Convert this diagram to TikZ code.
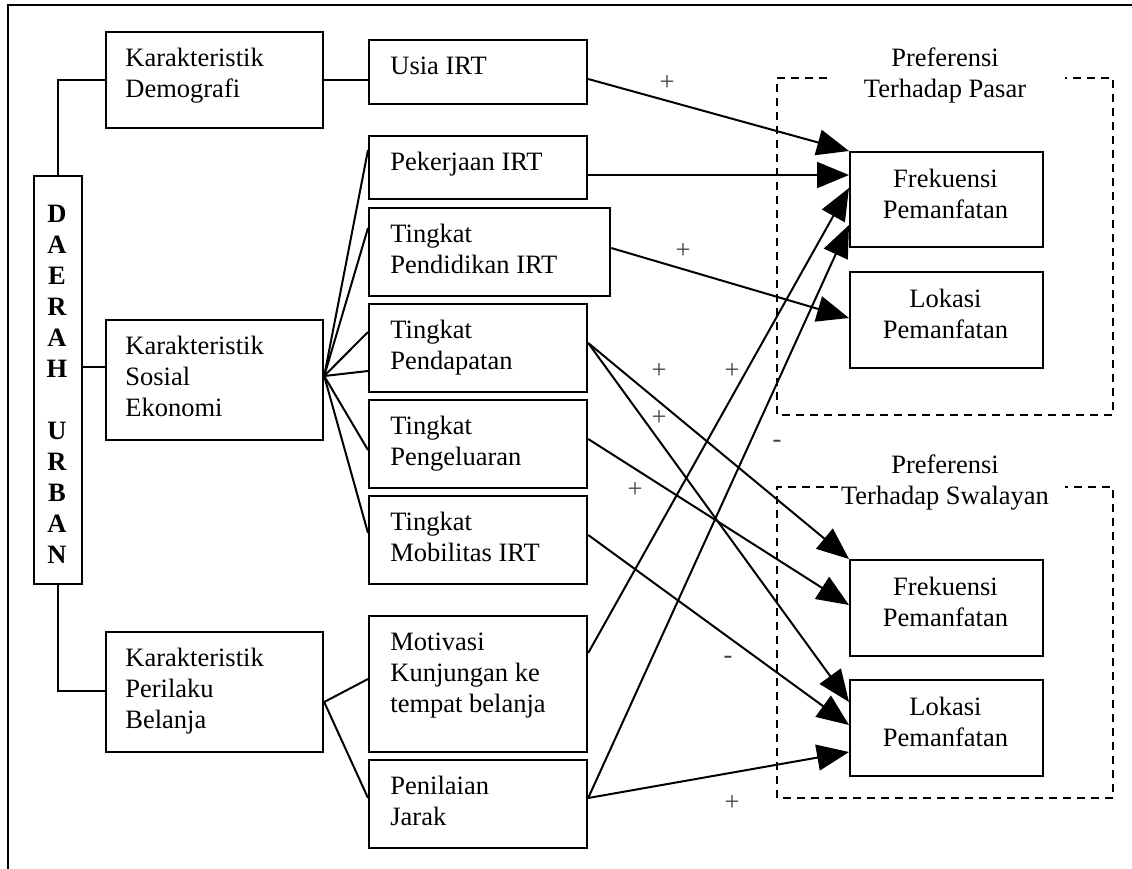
\documentclass[tikz,border=0pt]{standalone}
\usepackage{fontspec}
\setmainfont{Liberation Serif}
\usetikzlibrary{arrows.meta,calc}
\newcommand{\ltext}[1]{\begin{tabular}[t]{@{}l@{}}#1\end{tabular}}
\newcommand{\ctext}[1]{\begin{tabular}[t]{@{}c@{}}#1\end{tabular}}
\begin{document}
\begin{tikzpicture}[x={(0.5pt,0pt)}, y={(0pt,-0.5pt)},
  font=\fontsize{13.25}{15.5}\selectfont,
  box/.style={draw, line width=1.1pt, anchor=north west, inner sep=0pt},
  ln/.style={line width=1pt},
  arr/.style={line width=1pt, -{Triangle[length=16pt,width=13pt]}},
  dbox/.style={line width=1pt, dash pattern=on 4pt off 3pt},
  txt/.style={inner sep=0pt, anchor=base west},
  ctxt/.style={inner sep=0pt, anchor=base},
  sign/.style={inner sep=0pt, text=black!75}]
\useasboundingbox (0,0) rectangle (1132,869);
% outer frame (top and left)
\draw[line width=1.2pt] (1132,5) -- (8,5) -- (8,869);

% left column
\node[box, minimum width=24pt, minimum height=204pt] (du) at (33,175) {};
\node[ctxt] (dut) at (57,222) {\bfseries\ctext{D\\A\\E\\R\\A\\H\\\mbox{}\\U\\R\\B\\A\\N}};
\node[box, minimum width=108.5pt, minimum height=48pt] (kd) at (105,31) {};
\node[txt] (kdt) at (125,66) {\ltext{Karakteristik\\Demografi}};
\node[box, minimum width=108.5pt, minimum height=60pt] (kse) at (105,319) {};
\node[txt] (kset) at (125,354) {\ltext{Karakteristik\\Sosial\\Ekonomi}};
\node[box, minimum width=108.5pt, minimum height=60pt] (kpb) at (105,631) {};
\node[txt] (kpbt) at (125,666) {\ltext{Karakteristik\\Perilaku\\Belanja}};

% middle column
\node[box, minimum width=109pt, minimum height=32pt] (usia) at (368,39) {};
\node[txt] (usiat) at (390,74) {Usia IRT};
\node[box, minimum width=109pt, minimum height=31.5pt] (pek) at (368,135) {};
\node[txt] (pekt) at (390,170) {Pekerjaan IRT};
\node[box, minimum width=120.5pt, minimum height=44pt] (pend) at (368,207) {};
\node[txt] (pendt) at (390,242) {\ltext{Tingkat\\Pendidikan IRT}};
\node[box, minimum width=109pt, minimum height=44pt] (pdpt) at (368,303) {};
\node[txt] (pdptt) at (390,338) {\ltext{Tingkat\\Pendapatan}};
\node[box, minimum width=109pt, minimum height=44pt] (pgl) at (368,399) {};
\node[txt] (pglt) at (390,434) {\ltext{Tingkat\\Pengeluaran}};
\node[box, minimum width=109pt, minimum height=44pt] (mob) at (368,495) {};
\node[txt] (mobt) at (390,530) {\ltext{Tingkat\\Mobilitas IRT}};
\node[box, minimum width=109pt, minimum height=68pt] (mot) at (368,615) {};
\node[txt] (mott) at (390,650) {\ltext{Motivasi\\Kunjungan ke\\tempat belanja}};
\node[box, minimum width=109pt, minimum height=44pt] (pnl) at (368,759) {};
\node[txt] (pnlt) at (390,794) {\ltext{Penilaian\\Jarak}};

% right groups
\draw[dbox] (827,78) -- (777,78) -- (777,415) -- (1113,415) -- (1113,78) -- (1065,78);
\node[ctxt] (pasart) at (945,66) {\ctext{Preferensi\\Terhadap Pasar}};
\node[box, minimum width=96.5pt, minimum height=47.5pt] (fp) at (849,151) {};
\node[ctxt] (fpt) at (945.5,187) {\ctext{Frekuensi\\Pemanfatan}};
\node[box, minimum width=96.5pt, minimum height=48pt] (lp) at (849,271) {};
\node[ctxt] (lpt) at (945.5,307) {\ctext{Lokasi\\Pemanfatan}};

\draw[dbox] (838,487) -- (777,487) -- (777,798) -- (1113,798) -- (1113,487) -- (1065,487);
\node[ctxt] (swat) at (945,473) {\ctext{Preferensi\\Terhadap Swalayan}};
\node[box, minimum width=96.5pt, minimum height=48pt] (fs) at (849,559) {};
\node[ctxt] (fst) at (945.5,595) {\ctext{Frekuensi\\Pemanfatan}};
\node[box, minimum width=96.5pt, minimum height=48pt] (ls) at (849,679) {};
\node[ctxt] (lst) at (945.5,715) {\ctext{Lokasi\\Pemanfatan}};

% tree connectors
\draw[ln] (du.north) |- (kd.west);
\coordinate (kseIn) at ($(kse.north west)+(0,48)$);
\draw[ln] (du.east |- kseIn) -- (kseIn);
\draw[ln] (du.south) |- ($(kpb.north west)+(0,60)$);
\draw[ln] (kd.east) -- (usia.west |- kd.east);

\coordinate (ksef) at ($(kse.north east)+(0,57)$);
\draw[ln] (ksef) -- ($(pek.north west)+(0,15)$);
\draw[ln] (ksef) -- ($(pend.north west)+(0,21)$);
\draw[ln] (ksef) -- ($(pdpt.north west)+(0,29)$);
\draw[ln] (ksef) -- ($(pdpt.north west)+(0,68)$);
\draw[ln] (ksef) -- ($(pgl.north west)+(0,51)$);
\draw[ln] (ksef) -- ($(mob.north west)+(0,38)$);

\coordinate (kpbf) at ($(kpb.north east)+(0,71)$);
\draw[ln] (kpbf) -- ($(mot.north west)+(0,64)$);
\draw[ln] (kpbf) -- ($(pnl.north west)+(0,39)$);

% arrows
\draw[arr] ($(usia.north east)+(0,40)$) -- (fp.north west);
\draw[arr] ($(pek.north east)+(0,40)$) -- ($(fp.north west)+(0,24)$);
\draw[arr] ($(mot.north east)+(0,38)$) -- ($(fp.north west)+(0,37)$);
\draw[arr] ($(pnl.north east)+(0,39)$) -- ($(fp.north west)+(0,74)$);
\draw[arr] ($(pend.north east)+(0,41)$) -- ($(lp.north west)+(0,47)$);
\draw[arr] ($(pdpt.north east)+(0,40)$) -- (fs.north west);
\draw[arr] ($(pdpt.north east)+(0,40)$) -- ($(ls.north west)+(0,23)$);
\draw[arr] ($(pgl.north east)+(0,40)$) -- ($(fs.north west)+(0,46)$);
\draw[arr] ($(mob.north east)+(0,40)$) -- ($(ls.north west)+(0,46)$);
\draw[arr] ($(pnl.north east)+(0,39)$) -- ($(ls.north west)+(0,73)$);

% signs
\node[sign] (s1) at (667,83) {+};
\node[sign] (s2) at (683,251) {+};
\node[sign] (s3) at (659,371) {+};
\node[sign] (s4) at (732,371) {+};
\node[sign] (s5) at (659,418) {+};
\node[sign] (s6) at (635,490) {+};
\node[sign] (s7) at (777,444) {-};
\node[sign] (s8) at (728,660) {-};
\node[sign] (s9) at (732,803) {+};
\end{tikzpicture}
\end{document}
